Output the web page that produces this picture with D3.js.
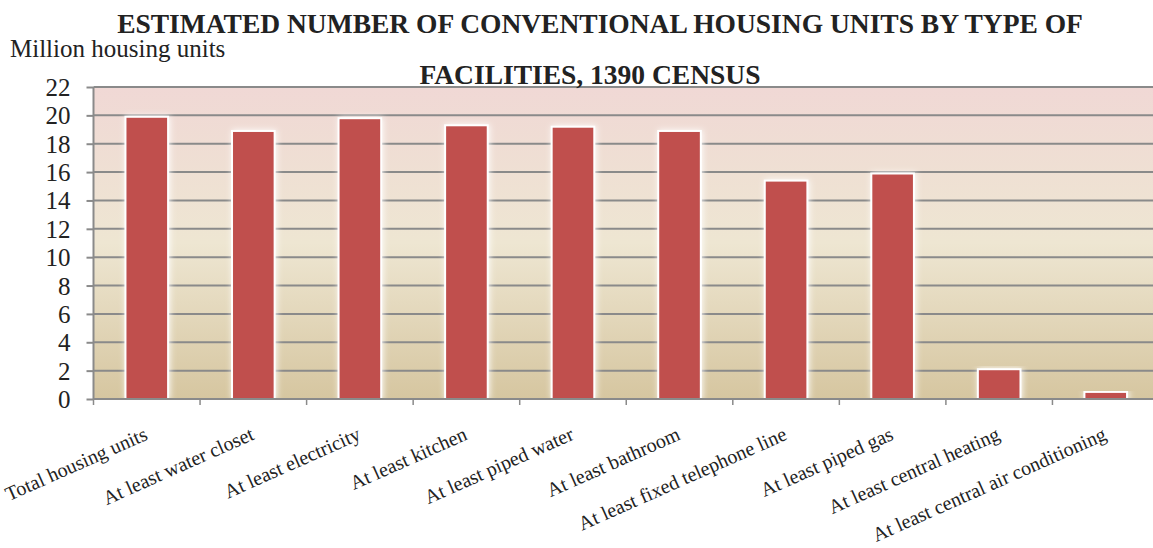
<!DOCTYPE html>
<html><head><meta charset="utf-8">
<script src="https://cdn.jsdelivr.net/npm/d3@7"></script>
<style>body{margin:0;background:#fff}svg{display:block}
svg text{font-family:"Liberation Serif","Times New Roman",Times,"DejaVu Serif",serif;fill:#222}
</style>
</head><body>
<svg id="c" width="1153" height="548"></svg>
<script>
const categories = ["Total housing units","At least water closet","At least electricity","At least kitchen","At least piped water","At least bathroom","At least fixed telephone line","At least piped gas","At least central heating","At least central air conditioning"];
const values = [19.9, 18.9, 19.8, 19.3, 19.2, 18.9, 15.4, 15.9, 2.1, 0.5];
const yTicks = [0,2,4,6,8,10,12,14,16,18,20,22];

(function(){
const svg = d3.select("#c");
const W = 1153;
const pL = 93.5, pR = 1159, pT = 87, pB = 399;
const x = d3.scaleBand().domain(categories).range([pL, pR]).paddingInner(0.6).paddingOuter(0.3);
const xb = d3.scaleBand().domain(categories).range([pL, pR]);
const y = d3.scaleLinear().domain([0, 22]).range([pB, pT]);

const defs = svg.append("defs");
const g = defs.append("linearGradient").attr("id","bg").attr("x1",0).attr("y1",0).attr("x2",0).attr("y2",1);
g.append("stop").attr("offset","0%").attr("stop-color","#f0d8d5");
g.append("stop").attr("offset","50%").attr("stop-color","#eee6d2");
g.append("stop").attr("offset","100%").attr("stop-color","#d6c6a0");
const f = defs.append("filter").attr("id","sh").attr("x","-30%").attr("y","-10%").attr("width","160%").attr("height","120%");
f.append("feDropShadow").attr("dx",1).attr("dy",0).attr("stdDeviation",3).attr("flood-color","#ffffff").attr("flood-opacity",0.9);

svg.append("rect").attr("x", pL).attr("y", pT).attr("width", pR-pL).attr("height", pB-pT).attr("fill","url(#bg)");

svg.append("g").selectAll("line").data(yTicks.filter(d=>d>0)).join("line")
  .attr("x1", pL).attr("x2", W).attr("y1", d=>y(d)).attr("y2", d=>y(d))
  .attr("stroke","#8a8a8a").attr("stroke-width",2);

svg.append("g").selectAll("rect").data(values).join("rect")
  .attr("x", (d,i)=>x(categories[i]))
  .attr("width", x.bandwidth())
  .attr("y", d=>y(d))
  .attr("height", d=>pB - y(d))
  .attr("fill","#c0504d").attr("stroke","#ffffff").attr("stroke-width",2)
  .attr("filter","url(#sh)");

const ya = svg.append("g").attr("transform",`translate(${pL},0)`)
  .call(d3.axisLeft(y).tickValues(yTicks).tickSize(7).tickPadding(16));
ya.attr("font-family",null).attr("font-size",null);
ya.select(".domain").attr("stroke","#8a8a8a").attr("stroke-width",2).attr("d",`M0,${pT}V${pB}`);
ya.selectAll(".tick line").attr("stroke","#8a8a8a").attr("stroke-width",2);
ya.selectAll("text").style("font-size","25px").attr("dy","0.34em");

const xa = svg.append("g").attr("transform",`translate(0,${pB})`);
xa.append("line").attr("x1",pL).attr("x2",W).attr("y1",0).attr("y2",0).attr("stroke","#8a8a8a").attr("stroke-width",2);
xa.selectAll("line.t").data(categories).join("line").attr("class","t")
  .attr("x1", d=>xb(d)).attr("x2", d=>xb(d)).attr("y1",0).attr("y2",6)
  .attr("stroke","#8a8a8a").attr("stroke-width",1.5);
xa.selectAll("text").data(categories).join("text")
  .attr("transform", d=>`translate(${xb(d)+xb.bandwidth()/2+2},${40}) rotate(-24)`)
  .attr("text-anchor","end")
  .style("font-size","20px")
  .text(d=>d);

const tt = svg.append("text").attr("text-anchor","middle").style("font-weight","bold").style("font-size","27.5px");
tt.append("tspan").attr("x",600).attr("y",33).text("ESTIMATED NUMBER OF CONVENTIONAL HOUSING UNITS BY TYPE OF");
tt.append("tspan").attr("x",590).attr("y",84).text("FACILITIES, 1390 CENSUS");
svg.append("text").attr("x",10).attr("y",57).style("font-size","25px").text("Million housing units");
})();
</script>
</body></html>
